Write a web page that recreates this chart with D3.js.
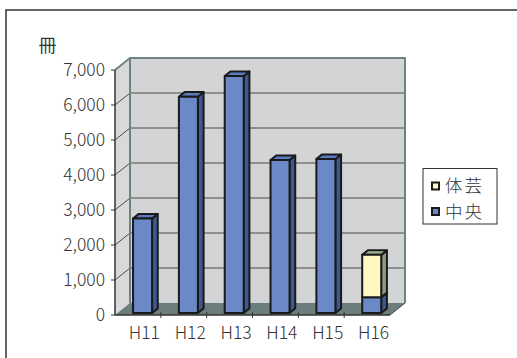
<!DOCTYPE html>
<html>
<head>
<meta charset="utf-8">
<script src="https://cdn.jsdelivr.net/npm/d3@7"></script>
<style>
html,body{margin:0;padding:0;background:#fff;}
svg{display:block;}
text{font-family:"Noto Sans CJK JP","Liberation Sans",sans-serif;fill:#333;font-weight:300;}
</style>
</head>
<body>
<svg id="chart" width="517" height="358"></svg>
<script>
const categories = ["H11","H12","H13","H14","H15","H16"];
const chuoValues = [2700, 6180, 6770, 4370, 4400, 450];
const taigeiValues = [0, 0, 0, 0, 0, 1210];
const yTicks = [0,1000,2000,3000,4000,5000,6000,7000];
const seriesNames = ["体芸","中央"];
const unitLabel = "冊";

const svg = d3.select("#chart");
const X0 = 115, X1 = 390, DX = 15, DY = 12;
const y = d3.scaleLinear().domain([0,7000]).range([315,70]);
const x = d3.scaleBand().domain(categories).range([X0, X1]);
const P = (px, py, d) => [px + d*DX, py - d*DY];
const poly = pts => "M" + pts.map(p => p.join(",")).join("L") + "Z";
const fmt = d3.format(",");

// outer frame
svg.append("path").attr("d","M6,358V10H517").attr("fill","none").attr("stroke","#333").attr("stroke-width",1.5);

const Y0 = y(0), YT = y(7000);
// back wall
svg.append("path").attr("d", poly([P(X0,Y0,1),P(X1,Y0,1),P(X1,YT,1),P(X0,YT,1)])).attr("fill","#d3d4d5");
// side wall
svg.append("path").attr("d", poly([P(X0,Y0,0),P(X0,YT,0),P(X0,YT,1),P(X0,Y0,1)])).attr("fill","#d8d9da");
// floor
svg.append("path").attr("d", poly([P(X0,Y0,0),P(X1,Y0,0),P(X1,Y0,1),P(X0,Y0,1)])).attr("fill","#6c7d7d");

// gridlines
yTicks.filter(t => t>0 && t<7000).forEach(t => {
  const a = P(X0,y(t),1), b = P(X1,y(t),1), c = P(X0,y(t),0);
  svg.append("line").attr("x1",a[0]).attr("y1",a[1]).attr("x2",b[0]).attr("y2",b[1]).attr("stroke","#4a4a4a").attr("stroke-width",1);
  svg.append("line").attr("x1",c[0]).attr("y1",c[1]).attr("x2",a[0]).attr("y2",a[1]).attr("stroke","#4a4a4a").attr("stroke-width",1);
});

// wall borders
const wb = svg.append("g").attr("fill","none").attr("stroke","#6e8282").attr("stroke-width",2).attr("stroke-linejoin","round");
wb.append("path").attr("d","M"+[P(X0,YT,0),P(X0,YT,1),P(X1,YT,1),P(X1,Y0,1)].map(p=>p.join(",")).join("L"));
wb.append("path").attr("d","M"+[P(X0,YT,1),P(X0,Y0,1)].map(p=>p.join(",")).join("L"));
// floor right edge
svg.append("path").attr("d","M"+[P(X1,Y0,0),P(X1,Y0,1)].map(p=>p.join(",")).join("L")).attr("stroke","#444").attr("stroke-width",1);

// y axis
const yAxis = svg.append("g");
yAxis.append("line").attr("x1",X0).attr("x2",X0).attr("y1",YT).attr("y2",Y0).attr("stroke","#333").attr("stroke-width",1.5);
yTicks.forEach(t => {
  yAxis.append("line").attr("x1",X0-4).attr("x2",X0).attr("y1",y(t)).attr("y2",y(t)).attr("stroke","#333").attr("stroke-width",1);
  yAxis.append("text").attr("x",105).attr("y",y(t)).attr("dy","0.36em").attr("text-anchor","end").attr("font-size",17.5).text(fmt(t));
});
// x axis
svg.append("line").attr("x1",X0).attr("x2",X1).attr("y1",Y0).attr("y2",Y0).attr("stroke","#333").attr("stroke-width",1.5);
categories.forEach((c,i) => {
  if (i>0) svg.append("line").attr("x1",x(c)).attr("x2",x(c)).attr("y1",Y0-3).attr("y2",Y0+3).attr("stroke","#333").attr("stroke-width",1);
  svg.append("text").attr("x",x(c)+x.bandwidth()/2+6.5).attr("y",338.5).attr("text-anchor","middle").attr("font-size",17.5).text(c);
});

// bars
const F0 = 0.17, F1 = 0.55, BOFF = 15.5, BW = 19;
const styles = {
  chuo: {front:"#6b89c7", side:"#3d5893", top:"#5a7bc0"},
  taigei: {front:"#fff8c2", side:"#8a9d83", top:"#a3b39a"}
};
const bars = svg.append("g").attr("stroke","#1a1a1a").attr("stroke-width",2).attr("stroke-linejoin","round");
categories.forEach((c,i) => {
  const segs = [["chuo",0,chuoValues[i]],["taigei",chuoValues[i],chuoValues[i]+taigeiValues[i]]].filter(s => s[2]>s[1]);
  const bx = x(c) + BOFF;
  segs.forEach(([k,v0,v1]) => {
    const s = styles[k];
    const yb = y(v0), yt = y(v1);
    bars.append("path").attr("d", poly([P(bx+BW,yb,F0),P(bx+BW,yb,F1),P(bx+BW,yt,F1),P(bx+BW,yt,F0)])).attr("fill",s.side);
    bars.append("path").attr("d", poly([P(bx,yt,F0),P(bx+BW,yt,F0),P(bx+BW,yt,F1),P(bx,yt,F1)])).attr("fill",s.top);
    bars.append("path").attr("d", poly([P(bx,yb,F0),P(bx+BW,yb,F0),P(bx+BW,yt,F0),P(bx,yt,F0)])).attr("fill",s.front);
  });
});

// unit label
svg.append("text").attr("x",47.5).attr("y",46).attr("dy","0.36em").attr("text-anchor","middle").attr("font-size",18).style("font-weight",400).style("fill","#333").style("opacity",0.99).text(unitLabel);

// legend
const lg = svg.append("g");
lg.append("rect").attr("x",423).attr("y",168.5).attr("width",74).attr("height",55.5).attr("fill","#fff").attr("stroke","#333").attr("stroke-width",1);
const legendColors = [styles.taigei.front, styles.chuo.front];
seriesNames.forEach((n,i) => {
  const cy = 186 + i*25.5;
  lg.append("rect").attr("x",432).attr("y",cy-3.5).attr("width",7).attr("height",7).attr("fill",legendColors[i]).attr("stroke","#1a1a1a").attr("stroke-width",2);
  lg.append("text").attr("x",445).attr("y",cy).attr("dy","0.36em").attr("font-size",17.5).attr("letter-spacing",2).text(n);
});
</script>
</body>
</html>
